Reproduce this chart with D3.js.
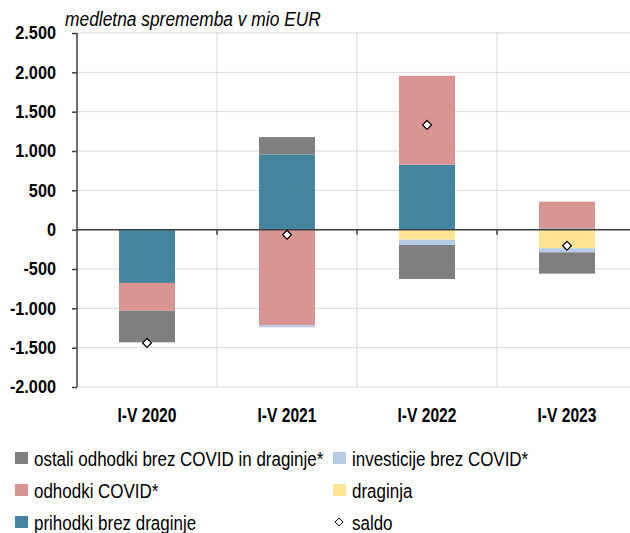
<!DOCTYPE html>
<html>
<head>
<meta charset="utf-8">
<script src="https://cdn.jsdelivr.net/npm/d3@7"></script>
<style>
  body { margin: 0; background: #fff; }
  text { font-family: "Liberation Sans", Arial, sans-serif; fill: #000; }
</style>
</head>
<body>
<div id="chart"></div>
<script>
// Categories and series (mio EUR)
const periods = ["I-V 2020", "I-V 2021", "I-V 2022", "I-V 2023"];
const seriesNames = ["prihodki brez draginje", "odhodki COVID*", "draginja", "investicije brez COVID*", "ostali odhodki brez COVID in draginje*"];
const prihodki = [-677, 957, 826, 15];
const odhodkiCovid = [-355, -1211, 1130, 341];
const draginja = [0, 0, -127, -237];
const investicije = [0, -30, -68, -51];
const ostali = [-400, 220, -432, -271];
const saldo = [-1440, -64, 1332, -205];
const yTicks = [-2000, -1500, -1000, -500, 0, 500, 1000, 1500, 2000, 2500];

const colors = ["#46859f", "#d99594", "#ffe594", "#b7cbe4", "#7f7f7f"];

const W = 630, H = 533;
const margin = { left: 77, top: 33, bottom: 387 };

const svg = d3.select("#chart").append("svg")
  .attr("width", W)
  .attr("height", H);

// build rows for d3.stack
const keys = ["prihodki", "covid", "draginja", "investicije", "ostali"];
const rows = periods.map((p, i) => ({
  period: p,
  prihodki: prihodki[i],
  covid: odhodkiCovid[i],
  draginja: draginja[i],
  investicije: investicije[i],
  ostali: ostali[i]
}));

const stacked = d3.stack()
  .keys(keys)
  .offset(d3.stackOffsetDiverging)(rows);

const x = d3.scaleBand()
  .domain(periods)
  .range([margin.left, margin.left + 140 * periods.length])
  .paddingInner(0)
  .paddingOuter(0);

const y = d3.scaleLinear()
  .domain([-2000, 2500])
  .range([margin.bottom, margin.top]);

const loc = d3.formatLocale({ decimal: ",", thousands: ".", grouping: [3], currency: ["", "€"], minus: "-" });
const fmt = loc.format(",d");

// horizontal gridlines
svg.append("g")
  .selectAll("line")
  .data(yTicks)
  .enter().append("line")
  .attr("x1", margin.left)
  .attr("x2", W)
  .attr("y1", d => y(d))
  .attr("y2", d => y(d))
  .attr("stroke", "#d9d9d9")
  .attr("stroke-width", 1);

// vertical gridlines at category boundaries
svg.append("g")
  .selectAll("line")
  .data(periods.slice(1))
  .enter().append("line")
  .attr("x1", d => x(d))
  .attr("x2", d => x(d))
  .attr("y1", y(2500))
  .attr("y2", y(-2000))
  .attr("stroke", "#d9d9d9")
  .attr("stroke-width", 1);

// bars
const barW = x.bandwidth() * 0.4;
svg.append("g")
  .selectAll("g")
  .data(stacked)
  .enter().append("g")
  .attr("fill", (d, i) => colors[i])
  .selectAll("rect")
  .data(d => d)
  .enter().append("rect")
  .attr("x", d => x(d.data.period) + (x.bandwidth() - barW) / 2)
  .attr("width", barW)
  .attr("y", d => y(Math.max(d[0], d[1])))
  .attr("height", d => Math.abs(y(d[0]) - y(d[1])));

// y axis
const yAxis = svg.append("g")
  .attr("transform", "translate(" + margin.left + ",0)")
  .call(d3.axisLeft(y).tickValues(yTicks).tickFormat(fmt).tickSize(5));
yAxis.select(".domain").attr("stroke", "#404040").attr("stroke-width", 1.5).attr("d", "M0," + y(2500) + "V" + y(-2000));
yAxis.selectAll(".tick line").attr("stroke", "#404040").attr("stroke-width", 1.5);
// condensed look: squeeze labels horizontally
yAxis.selectAll(".tick text")
  .attr("x", 0)
  .attr("transform", "translate(-21,0) scale(0.88,1)")
  .style("font-size", "18.5px")
  .style("font-weight", "bold")
  .attr("fill", "#000");

// zero line with ticks at category boundaries
const zeroAxis = svg.append("g")
  .attr("transform", "translate(0," + y(0) + ")")
  .call(d3.axisBottom(x).tickValues([]).tickSizeOuter(0));
zeroAxis.select(".domain").attr("stroke", "#404040").attr("stroke-width", 1.5).attr("d", "M" + margin.left + ",0H" + W);
zeroAxis.selectAll(".sep")
  .data(periods)
  .enter().append("line")
  .attr("x1", d => x(d) + x.bandwidth())
  .attr("x2", d => x(d) + x.bandwidth())
  .attr("y1", 0)
  .attr("y2", 5)
  .attr("stroke", "#404040")
  .attr("stroke-width", 1.5);

// category labels
svg.append("g")
  .selectAll("text")
  .data(periods)
  .enter().append("text")
  .attr("transform", d => "translate(" + (x(d) + x.bandwidth() / 2) + ",422) scale(0.78,1)")
  .attr("text-anchor", "middle")
  .style("font-size", "20px")
  .style("font-weight", "bold")
  .text(d => d);

// saldo markers
const diamond = d3.symbol().type(d3.symbolDiamond2).size(50);
svg.append("g")
  .selectAll("path")
  .data(saldo)
  .enter().append("path")
  .attr("d", diamond)
  .attr("transform", (d, i) => "translate(" + (x(periods[i]) + x.bandwidth() / 2) + "," + y(d) + ")")
  .attr("fill", "#fff")
  .attr("stroke", "#000")
  .attr("stroke-width", 1.2);

// title
svg.append("text")
  .attr("transform", "translate(65,26) scale(0.9,1)")
  .style("font-size", "19.3px")
  .style("font-style", "italic")
  .text("medletna sprememba v mio EUR");

// legend
const legendItems = [
  { name: seriesNames[4], color: colors[4], col: 0, row: 0 },
  { name: seriesNames[3], color: colors[3], col: 1, row: 0 },
  { name: seriesNames[1], color: colors[1], col: 0, row: 1 },
  { name: seriesNames[2], color: colors[2], col: 1, row: 1 },
  { name: seriesNames[0], color: colors[0], col: 0, row: 2 },
  { name: "saldo", color: null, col: 1, row: 2 }
];
const colX = [15, 333];
const rowY = [458, 490, 522];
const lg = svg.append("g")
  .selectAll("g")
  .data(legendItems)
  .enter().append("g")
  .attr("transform", d => "translate(" + colX[d.col] + "," + rowY[d.row] + ")");
lg.filter(d => d.color)
  .append("rect")
  .attr("x", 0)
  .attr("y", -6)
  .attr("width", 13)
  .attr("height", 12)
  .attr("fill", d => d.color);
lg.filter(d => !d.color)
  .append("path")
  .attr("d", d3.symbol().type(d3.symbolDiamond2).size(40))
  .attr("transform", "translate(6,0)")
  .attr("fill", "#fff")
  .attr("stroke", "#000")
  .attr("stroke-width", 1);
lg.append("text")
  .attr("transform", "translate(19,8) scale(0.87,1)")
  .style("font-size", "19.5px")
  .text(d => d.name);
</script>
</body>
</html>
